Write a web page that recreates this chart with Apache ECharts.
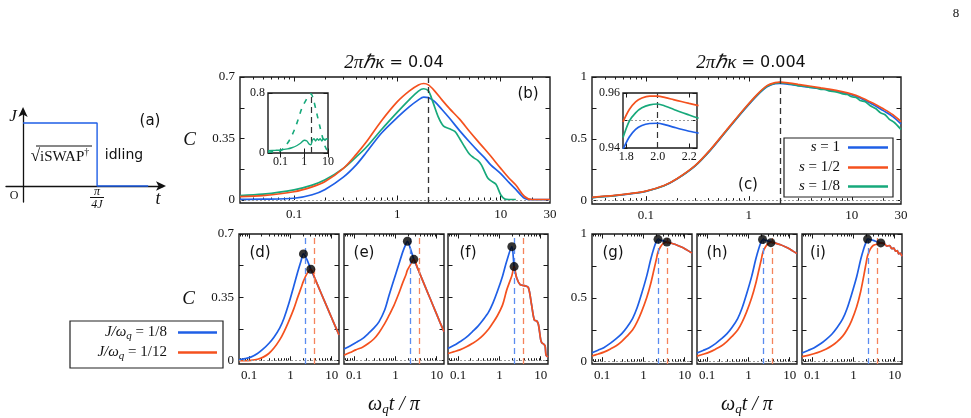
<!DOCTYPE html>
<html>
<head>
<meta charset="utf-8">
<script src="https://cdn.jsdelivr.net/npm/echarts@6.0.0/dist/echarts.min.js"></script>
<style>
html, body { margin: 0; background: #fff; }
#chart { width: 971px; height: 418px; }
</style>
</head>
<body>
<div id="chart"></div>
<script>
// ---------- data ----------
var sNames = ['s = 1', 's = 1/2', 's = 1/8'];
var jNames = ['J/ωq = 1/8', 'J/ωq = 1/12'];

// tick values
var topMajor = [0.1, 1, 10];
var topMinor = [0.04, 0.05, 0.06, 0.07, 0.08, 0.09, 0.2, 0.3, 0.4, 0.5, 0.6, 0.7, 0.8, 0.9,
                2, 3, 4, 5, 6, 7, 8, 9, 20];
var topLabels = [0.1, 1, 10, 30];
var botMajor = [0.1, 1, 10];
var botMinor = [0.06, 0.07, 0.08, 0.09, 0.2, 0.3, 0.4, 0.5, 0.6, 0.7, 0.8, 0.9, 2, 3, 4, 5, 6, 7, 8, 9];
var botLabels = [0.1, 1, 10];
var ticks07 = [0, 0.175, 0.35, 0.525, 0.7];
var labels07 = [0, 0.35, 0.7];
var ticks1 = [0, 0.25, 0.5, 0.75, 1];
var labels1 = [0, 0.5, 1];

// (a) pulse sketch
var pulseT = [0, 1, 1, 1.69];
var pulseJ = [1, 1, 0, 0];

// (b) 2πħκ = 0.04
var xTop = [0.03, 0.05, 0.1, 0.15, 0.2, 0.3, 0.4, 0.5, 0.7, 1, 1.3, 1.6, 1.8, 2, 2.3, 2.7, 3.2, 4, 5, 6, 7, 8, 10, 12, 14, 17, 20, 25, 30];
var bBlue = [0.004, 0.005, 0.01, 0.03, 0.06, 0.13, 0.2, 0.27, 0.38, 0.47, 0.53, 0.57, 0.585, 0.583, 0.56, 0.515, 0.465, 0.395, 0.33, 0.28, 0.24, 0.2, 0.15, 0.1, 0.06, 0.01, 0.002, 0.002, 0.002];
var bOrange = [0.019, 0.025, 0.047, 0.075, 0.105, 0.18, 0.26, 0.33, 0.45, 0.56, 0.62, 0.655, 0.663, 0.655, 0.62, 0.57, 0.52, 0.46, 0.39, 0.335, 0.29, 0.25, 0.18, 0.125, 0.085, 0.02, 0.003, 0.003, 0.003];
var xBGreen = [0.03, 0.05, 0.1, 0.15, 0.2, 0.3, 0.4, 0.5, 0.7, 1, 1.3, 1.6, 1.8, 2, 2.2, 2.5, 2.8, 3.2, 3.6, 4, 4.5, 5, 5.5, 6, 6.5, 7, 7.5, 8, 9, 10, 11, 12, 14];
var bGreen = [0.025, 0.033, 0.058, 0.085, 0.115, 0.18, 0.245, 0.3, 0.4, 0.5, 0.57, 0.62, 0.633, 0.62, 0.56, 0.47, 0.42, 0.405, 0.39, 0.35, 0.3, 0.26, 0.24, 0.225, 0.2, 0.16, 0.125, 0.11, 0.09, 0.03, 0.005, 0.003, 0.003];
// inset of (b)
var xIBSolid = [0.03, 0.06, 0.1, 0.2, 0.3, 0.5, 0.7, 1, 1.3, 1.6, 1.9, 2.2, 2.6, 3, 3.5, 4, 4.7, 5.5, 6.5, 7.5, 8.5, 10];
var ibSolid = [0.03, 0.035, 0.04, 0.055, 0.07, 0.1, 0.13, 0.17, 0.16, 0.12, 0.11, 0.17, 0.19, 0.16, 0.19, 0.17, 0.19, 0.16, 0.19, 0.17, 0.19, 0.18];
var xIBDash = [0.03, 0.06, 0.1, 0.15, 0.25, 0.4, 0.56, 0.8, 1.26, 1.6, 1.92, 2.4, 3.3, 4.5, 6, 7.5, 9];
var ibDash = [0.01, 0.02, 0.03, 0.08, 0.18, 0.32, 0.45, 0.6, 0.72, 0.77, 0.79, 0.72, 0.54, 0.36, 0.2, 0.09, 0.04];

// (c) 2πħκ = 0.004
var xC = [0.03, 0.05, 0.07, 0.1, 0.15, 0.2, 0.3, 0.42, 0.6, 0.89, 1.2, 1.5, 1.8, 2, 2.5, 3, 4, 5, 6, 8, 10, 12, 15, 17.5, 20, 25, 30];
var cBlue = [0.024, 0.04, 0.055, 0.075, 0.12, 0.175, 0.28, 0.405, 0.56, 0.73, 0.85, 0.92, 0.947, 0.948, 0.94, 0.93, 0.915, 0.905, 0.895, 0.875, 0.855, 0.83, 0.79, 0.76, 0.73, 0.68, 0.62];
var cOrange = [0.026, 0.042, 0.057, 0.077, 0.122, 0.177, 0.283, 0.41, 0.565, 0.737, 0.858, 0.93, 0.955, 0.958, 0.95, 0.94, 0.925, 0.912, 0.902, 0.882, 0.862, 0.838, 0.8, 0.772, 0.745, 0.695, 0.64];
var xCGreen = [0.03, 0.05, 0.07, 0.1, 0.15, 0.2, 0.3, 0.42, 0.6, 0.89, 1.2, 1.5, 1.8, 2, 2.5, 3, 3.5, 4, 4.5, 5, 5.5, 6, 7, 8, 9, 10, 11, 12, 13.5, 15, 17, 19, 21, 23, 26, 30];
var cGreen = [0.025, 0.041, 0.056, 0.076, 0.121, 0.176, 0.282, 0.407, 0.562, 0.733, 0.853, 0.925, 0.95, 0.955, 0.945, 0.93, 0.925, 0.915, 0.912, 0.9, 0.9, 0.888, 0.88, 0.865, 0.858, 0.84, 0.835, 0.81, 0.8, 0.77, 0.745, 0.71, 0.695, 0.66, 0.63, 0.575];
// inset of (c)
var xIC = [1.78, 1.82, 1.86, 1.9, 1.95, 2.0, 2.05, 2.1, 2.15, 2.2, 2.26];
var icBlue = [0.9395, 0.9440, 0.9468, 0.9482, 0.9489, 0.9490, 0.9484, 0.9476, 0.9468, 0.9461, 0.9454];
var icOrange = [0.9495, 0.9540, 0.9568, 0.9582, 0.9589, 0.9589, 0.9583, 0.9576, 0.9569, 0.9562, 0.9554];
var icGreen = [0.9438, 0.9498, 0.9528, 0.9546, 0.9557, 0.9560, 0.9552, 0.9541, 0.9530, 0.9520, 0.9508];

// (d)-(f), κ = 0.04
var xD = [0.057, 0.08, 0.11, 0.16, 0.22, 0.3, 0.4, 0.55, 0.7, 0.9, 1.2, 1.5, 1.8, 2.07, 2.5, 3.12, 4, 5, 6.3, 8, 10, 12, 15];
var dBlue = [0.005, 0.012, 0.02, 0.04, 0.065, 0.095, 0.13, 0.18, 0.235, 0.31, 0.41, 0.49, 0.55, 0.59, 0.56, 0.505, 0.449, 0.397, 0.343, 0.288, 0.236, 0.194, 0.142];
var dOrange = [0, 0, 0.002, 0.008, 0.02, 0.04, 0.07, 0.115, 0.16, 0.215, 0.285, 0.35, 0.4, 0.44, 0.48, 0.505, 0.449, 0.397, 0.343, 0.288, 0.236, 0.194, 0.142];
var dDots = [[2.07, 0.59], [3.12, 0.505]];
var xE = [0.057, 0.08, 0.11, 0.16, 0.22, 0.3, 0.4, 0.55, 0.7, 0.9, 1.2, 1.5, 1.8, 1.95, 2.3, 2.79, 3.5, 4.5, 6, 8, 10, 12, 15];
var eBlue = [0.065, 0.082, 0.1, 0.122, 0.15, 0.18, 0.215, 0.28, 0.36, 0.44, 0.53, 0.6, 0.645, 0.66, 0.62, 0.56, 0.507, 0.447, 0.378, 0.309, 0.256, 0.212, 0.16];
var eOrange = [0.03, 0.045, 0.06, 0.075, 0.095, 0.12, 0.155, 0.205, 0.25, 0.3, 0.37, 0.43, 0.475, 0.5, 0.53, 0.56, 0.507, 0.447, 0.378, 0.309, 0.256, 0.212, 0.16];
var eDots = [[1.95, 0.66], [2.79, 0.56]];
var xF = [0.057, 0.08, 0.11, 0.16, 0.22, 0.3, 0.4, 0.55, 0.7, 0.9, 1.2, 1.5, 2.0, 2.27, 2.6, 3.17, 4, 5, 6, 7, 8, 8.8, 10, 10.6, 12, 12.8, 13.5, 15];
var fBlue = [0.068, 0.085, 0.105, 0.13, 0.16, 0.19, 0.225, 0.27, 0.32, 0.385, 0.47, 0.55, 0.63, 0.52, 0.46, 0.42, 0.415, 0.405, 0.31, 0.225, 0.22, 0.2, 0.115, 0.1, 0.09, 0.08, 0.03, 0.02];
var fOrange = [0.04, 0.05, 0.06, 0.077, 0.095, 0.115, 0.14, 0.175, 0.21, 0.25, 0.31, 0.39, 0.47, 0.52, 0.46, 0.42, 0.415, 0.405, 0.31, 0.225, 0.22, 0.2, 0.115, 0.1, 0.09, 0.08, 0.03, 0.02];
var fDots = [[2.0, 0.63], [2.27, 0.52]];

// (g)-(i), κ = 0.004
var xG = [0.057, 0.08, 0.11, 0.16, 0.22, 0.3, 0.4, 0.55, 0.7, 0.9, 1.2, 1.5, 1.8, 2.05, 2.26, 2.6, 3, 3.7, 4.5, 6, 8, 10, 12, 15];
var gBlue = [0.07, 0.09, 0.11, 0.145, 0.18, 0.22, 0.27, 0.34, 0.42, 0.53, 0.67, 0.8, 0.89, 0.94, 0.958, 0.952, 0.946, 0.937, 0.93, 0.918, 0.9, 0.885, 0.87, 0.85];
var gOrange = [0.045, 0.06, 0.075, 0.1, 0.125, 0.16, 0.2, 0.25, 0.31, 0.39, 0.5, 0.61, 0.72, 0.8, 0.86, 0.9, 0.925, 0.937, 0.93, 0.918, 0.9, 0.885, 0.87, 0.85];
var gDots = [[2.26, 0.958], [3.7, 0.937]];
var hBlue = [0.068, 0.088, 0.108, 0.142, 0.178, 0.218, 0.268, 0.338, 0.418, 0.528, 0.668, 0.8, 0.89, 0.94, 0.957, 0.951, 0.945, 0.936, 0.929, 0.916, 0.898, 0.882, 0.866, 0.848];
var hOrange = [0.044, 0.058, 0.073, 0.098, 0.123, 0.158, 0.198, 0.248, 0.308, 0.388, 0.5, 0.61, 0.72, 0.8, 0.86, 0.9, 0.924, 0.936, 0.929, 0.916, 0.898, 0.882, 0.866, 0.848];
var hDots = [[2.2, 0.957], [3.5, 0.932]];
var xI = [0.057, 0.08, 0.11, 0.16, 0.22, 0.3, 0.4, 0.55, 0.7, 0.9, 1.2, 1.5, 1.8, 2.05, 2.2, 2.6, 3, 3.7, 4.6, 5.5, 6.5, 7.5, 8.5, 9.5, 10.5, 11.5, 12.5, 13.5, 15];
var iBlue = [0.068, 0.088, 0.108, 0.14, 0.175, 0.215, 0.265, 0.335, 0.415, 0.525, 0.665, 0.8, 0.89, 0.94, 0.96, 0.955, 0.95, 0.94, 0.93, 0.925, 0.905, 0.91, 0.885, 0.89, 0.865, 0.87, 0.845, 0.85, 0.825];
var iOrange = [0.04, 0.05, 0.062, 0.08, 0.1, 0.125, 0.155, 0.2, 0.25, 0.32, 0.43, 0.55, 0.68, 0.78, 0.83, 0.885, 0.91, 0.92, 0.93, 0.925, 0.905, 0.91, 0.885, 0.89, 0.865, 0.87, 0.845, 0.85, 0.825];
var iDots = [[2.2, 0.96], [4.6, 0.93]];

// gate times (dashed verticals)
var tGateTop = 2;
var tGate = [2.27, 3.7];

// ---------- helpers ----------
var SERIF = 'Liberation Serif';
var SANS = 'DejaVu Sans';
var BLUE = '#1f5fe6', ORANGE = '#f4511e', GREEN = '#17a97b';
var BLUE_L = '#5a8cf0', ORANGE_L = '#f5845c';

var grids = [], xAxes = [], yAxes = [], series = [], graphics = [];

function pairs(xs, ys) {
  var out = [];
  for (var i = 0; i < xs.length; i++) out.push([xs[i], ys[i]]);
  return out;
}
function logFmt(v) { return String(+(+v).toPrecision(3)); }
function numFmt(v) { return String(+(+v).toFixed(3)); }

function addGrid(left, top, width, height, bg) {
  grids.push({left: left, top: top, width: width, height: height, show: true,
    borderColor: '#1a1a1a', borderWidth: 1.4, backgroundColor: bg || 'transparent'});
  return grids.length - 1;
}

function tickAxis(list, base, pos, ticks, len, labels, fmt, size, extra) {
  var a = {position: pos, axisLine: {show: false}, splitLine: {show: false},
    axisTick: {show: true, inside: true, length: len, customValues: ticks, lineStyle: {color: '#1a1a1a', width: 1}},
    axisLabel: labels ? {show: true, customValues: labels, formatter: fmt, fontFamily: SERIF,
      fontSize: size || 13, color: '#111', margin: 5} : {show: false}};
  for (var k in base) a[k] = base[k];
  for (var e in extra) a[e] = extra[e];
  list.push(a);
  return list.length - 1;
}

function addX(g, type, min, max, majors, minors, labels, fmt, size, extra) {
  var base = {type: type, gridIndex: g, min: min, max: max};
  var idx = tickAxis(xAxes, base, 'bottom', majors, 4.5, labels, fmt, size, extra);
  if (minors) tickAxis(xAxes, base, 'bottom', minors, 2.5);
  tickAxis(xAxes, base, 'top', majors, 4.5);
  if (minors) tickAxis(xAxes, base, 'top', minors, 2.5);
  return idx;
}

function addY(g, min, max, ticks, labels, fmt, size, extra) {
  var base = {type: 'value', gridIndex: g, min: min, max: max};
  var idx = tickAxis(yAxes, base, 'left', ticks, 4.5, labels, fmt, size, extra);
  tickAxis(yAxes, base, 'right', ticks, 4.5);
  return idx;
}

function addLine(name, xi, yi, xs, ys, color, opts) {
  var s = {type: 'line', name: name, xAxisIndex: xi, yAxisIndex: yi, data: pairs(xs, ys),
    symbol: 'none', smooth: 0.3, silent: true, z: 3, clip: true,
    lineStyle: {color: color, width: 1.7}, itemStyle: {color: color}};
  for (var k in opts) s[k] = opts[k];
  series.push(s);
  return s;
}

function marks(items) {
  return {silent: true, symbol: ['none', 'none'], label: {show: false}, animation: false, data: items};
}
function vmark(x, color, w) {
  return {xAxis: x, lineStyle: {color: color, type: [6, 4], width: w || 1.2}};
}
function hdot(y) {
  return {yAxis: y, lineStyle: {color: '#9a9a9a', type: [2, 2], width: 1}};
}

function txt(x, y, text, font, extra) {
  var st = {text: text, font: font, fill: '#111', align: 'center', verticalAlign: 'middle'};
  for (var k in extra) st[k] = extra[k];
  graphics.push({type: 'text', x: x, y: y, z: 10, silent: true, style: st});
}
function seg(x1, y1, x2, y2, w) {
  graphics.push({type: 'line', z: 10, silent: true, shape: {x1: x1, y1: y1, x2: x2, y2: y2},
    style: {stroke: '#111', lineWidth: w || 1}});
}

var cName = {name: 'C', nameLocation: 'middle', nameRotate: 0, nameGap: 44, nameMoveOverlap: false,
  nameTextStyle: {fontFamily: SERIF, fontStyle: 'italic', fontSize: 19, color: '#111'}};
var wRich = {
  w: {fontFamily: SERIF, fontStyle: 'italic', fontSize: 20, color: '#111'},
  q: {fontFamily: SERIF, fontStyle: 'italic', fontSize: 13, color: '#111', padding: [9, 0, 0, 0]}
};
var wName = {name: '{w|ω}{q|q}{w|t / π}', nameLocation: 'middle', nameGap: 30, nameMoveOverlap: false,
  nameTextStyle: {rich: wRich}};

// ---------- (a) sketch ----------
var gA = grids.length;
grids.push({left: 6, top: 110, width: 157, height: 92, show: false});
var arrowLine = {onZero: true, symbol: ['none', 'arrow'], symbolSize: [7, 10], symbolOffset: [0, 3],
  lineStyle: {color: '#111', width: 1.3}};
xAxes.push({type: 'value', gridIndex: gA, min: -0.23, max: 1.89, axisLine: arrowLine,
  axisTick: {show: false}, axisLabel: {show: false}, splitLine: {show: false}});
var axA = xAxes.length - 1;
yAxes.push({type: 'value', gridIndex: gA, min: -0.254, max: 1.206, axisLine: arrowLine,
  axisTick: {show: false}, axisLabel: {show: false}, splitLine: {show: false}});
var ayA = yAxes.length - 1;
addLine('pulse', axA, ayA, pulseT, pulseJ, BLUE, {smooth: false, lineStyle: {color: BLUE, width: 1.4}});

txt(13, 117, 'J', 'italic 17px "Liberation Serif"');
txt(150, 121, '(a)', '15px "DejaVu Sans"');
txt(60, 157, '{r|√}{t|iSWAP}{d|†}', '15px "Liberation Serif"', {rich: {
  r: {fontFamily: SERIF, fontSize: 17}, t: {fontFamily: SERIF, fontSize: 15},
  d: {fontFamily: SERIF, fontSize: 10, padding: [0, 0, 9, 0]}}});
seg(36, 146, 92, 146, 1);
txt(124, 155, 'idling', '14px "DejaVu Sans"');
txt(14, 196, 'O', '12px "Liberation Serif"');
txt(97, 192, 'π', 'italic 12px "Liberation Serif"');
seg(90, 197.5, 104, 197.5, 1);
txt(97, 205, '4J', 'italic 12px "Liberation Serif"');
txt(158, 199, 't', 'italic 18px "Liberation Serif"');

// ---------- (b) ----------
var gB = addGrid(240, 77, 310, 126);
var bx = addX(gB, 'log', 0.03, 30, topMajor, topMinor, topLabels, logFmt, 13);
var by = addY(gB, -0.017, 0.7, ticks07, labels07, numFmt, 13, cName);
addLine(sNames[0], bx, by, xTop, bBlue, BLUE, {markLine: marks([hdot(0), vmark(tGateTop, '#333', 1.3)])});
addLine(sNames[1], bx, by, xTop, bOrange, ORANGE, {z: 4});
addLine(sNames[2], bx, by, xBGreen, bGreen, GREEN, {z: 3});

var gBi = addGrid(268, 93, 60, 60, '#fff');
var bix = addX(gBi, 'log', 0.03, 10, [0.1, 1, 10], null, [0.1, 1, 10], logFmt, 12);
var biy = addY(gBi, 0, 0.8, [0, 0.8], [0, 0.8], numFmt, 12);
yAxes[biy].axisLabel.margin = 3;
xAxes[bix].axisLabel.margin = 3;
addLine('inset', bix, biy, xIBSolid, ibSolid, GREEN, {z: 6, lineStyle: {color: GREEN, width: 1.4},
  markLine: marks([vmark(2, '#333', 1.2)])});
addLine('inset dashed', bix, biy, xIBDash, ibDash, GREEN, {z: 6, lineStyle: {color: GREEN, width: 1.6, type: [5, 6]}});

// ---------- (c) ----------
var gC = addGrid(592, 77, 309, 127);
var cx = addX(gC, 'log', 0.03, 30, topMajor, topMinor, topLabels, logFmt, 13);
var cy = addY(gC, -0.027, 1, ticks1, labels1, numFmt, 13);
addLine(sNames[0], cx, cy, xC, cBlue, BLUE, {markLine: marks([hdot(0), vmark(tGateTop, '#333', 1.3)])});
addLine(sNames[1], cx, cy, xC, cOrange, ORANGE, {z: 4});
addLine(sNames[2], cx, cy, xCGreen, cGreen, GREEN, {z: 3});

var gCi = addGrid(623, 93, 74, 55, '#fff');
var cix = addX(gCi, 'value', 1.78, 2.25, [1.8, 2.0, 2.2], null, [1.8, 2.0, 2.2],
  function (v) { return (+v).toFixed(1); }, 12);
var ciy = addY(gCi, 0.94, 0.96, [0.94, 0.95, 0.96], [0.94, 0.96],
  function (v) { return (+v).toFixed(2); }, 12);
yAxes[ciy].axisLabel.margin = 3;
xAxes[cix].axisLabel.margin = 3;
addLine(sNames[0], cix, ciy, xIC, icBlue, BLUE, {z: 6, markLine: marks([hdot(0.95), vmark(2.0, '#333', 1.2)])});
addLine(sNames[1], cix, ciy, xIC, icOrange, ORANGE, {z: 6});
addLine(sNames[2], cix, ciy, xIC, icGreen, GREEN, {z: 6});

// ---------- bottom rows ----------
function bottomPanel(left, yMin, yMax, yTicks, yLabels, xs, blue, orange, dots, first, extraX, extraY) {
  var g = addGrid(left, 234, 100, 130);
  var xi = addX(g, 'log', 0.057, 15, botMajor, botMinor, botLabels, logFmt, 13, extraX);
  var yi = addY(g, yMin, yMax, yTicks, first ? yLabels : null, numFmt, 13, extraY);
  addLine(jNames[0], xi, yi, xs, blue, BLUE, {z: 3,
    markLine: marks([hdot(0), vmark(tGate[0], BLUE_L, 1.3), vmark(tGate[1], ORANGE_L, 1.3)])});
  addLine(jNames[1], xi, yi, xs, orange, ORANGE, {z: 4});
  series.push({type: 'scatter', name: 'optimum', xAxisIndex: xi, yAxisIndex: yi, data: dots,
    symbolSize: 9, itemStyle: {color: '#000'}, z: 6, silent: true});
}
bottomPanel(239, -0.018, 0.7, ticks07, labels07, xD, dBlue, dOrange, dDots, true, null, cName);
bottomPanel(344, -0.018, 0.7, ticks07, labels07, xE, eBlue, eOrange, eDots, false, wName, null);
bottomPanel(448, -0.018, 0.7, ticks07, labels07, xF, fBlue, fOrange, fDots, false, null, null);
bottomPanel(592, -0.018, 1, ticks1, labels1, xG, gBlue, gOrange, gDots, true, null, null);
bottomPanel(697, -0.018, 1, ticks1, labels1, xG, hBlue, hOrange, hDots, false, wName, null);
bottomPanel(802, -0.018, 1, ticks1, labels1, xI, iBlue, iOrange, iDots, false, null, null);

// ---------- texts ----------
var titleRich = {
  m: {fontFamily: SERIF, fontStyle: 'italic', fontSize: 19, fill: '#111'},
  n: {fontFamily: SANS, fontSize: 16, fill: '#111'}
};
txt(394, 63, '{m|2πℏκ}{n| = 0.04}', '16px "DejaVu Sans"', {rich: titleRich});
txt(751, 63, '{m|2πℏκ}{n| = 0.004}', '16px "DejaVu Sans"', {rich: titleRich});
txt(956, 14, '8', '13px "Liberation Serif"');
var panelTags = [['(b)', 528, 94], ['(c)', 748, 185], ['(d)', 260, 253], ['(e)', 364, 253],
  ['(f)', 468, 253], ['(g)', 613, 253], ['(h)', 717, 253], ['(i)', 818, 253]];
panelTags.forEach(function (p) { txt(p[1], p[2], p[0], '15px "DejaVu Sans"'); });

// legend frames
graphics.push({type: 'rect', z: 3, silent: true, shape: {x: 784, y: 138, width: 109, height: 59},
  style: {fill: '#fff', stroke: '#222', lineWidth: 1.2}});
graphics.push({type: 'rect', z: 3, silent: true, shape: {x: 70, y: 321, width: 153, height: 47},
  style: {fill: '#fff', stroke: '#222', lineWidth: 1.2}});

// ---------- legends ----------
var legends = [];
var sTops = [140, 160, 179];
sNames.forEach(function (n, i) {
  legends.push({data: [n], right: 83, top: sTops[i], align: 'right', padding: 0, icon: 'rect',
    itemWidth: 40, itemHeight: 2.5, selectedMode: false, z: 5,
    formatter: function (name) { return '{i|s}{n|' + name.slice(1) + '}'; },
    textStyle: {rich: {
      i: {fontFamily: SERIF, fontStyle: 'italic', fontSize: 15, color: '#111'},
      n: {fontFamily: SERIF, fontSize: 15, color: '#111', padding: [0, 3, 0, 0]}}}});
});
var jTops = [325, 345];
jNames.forEach(function (n, i) {
  legends.push({data: [n], right: 754, top: jTops[i], align: 'right', padding: 0, icon: 'rect',
    itemWidth: 39, itemHeight: 2.5, selectedMode: false, z: 5,
    formatter: function (name) { return '{i|J/ω}{q|q}{n| = ' + name.split(' = ')[1] + '}'; },
    textStyle: {rich: {
      i: {fontFamily: SERIF, fontStyle: 'italic', fontSize: 15, color: '#111'},
      q: {fontFamily: SERIF, fontStyle: 'italic', fontSize: 11, color: '#111', padding: [7, 0, 0, 0]},
      n: {fontFamily: SERIF, fontSize: 15, color: '#111', padding: [0, 6, 0, 0]}}}});
});

var chart = echarts.init(document.getElementById('chart'));
chart.setOption({
  backgroundColor: '#fff',
  animation: false,
  grid: grids,
  xAxis: xAxes,
  yAxis: yAxes,
  legend: legends,
  series: series,
  graphic: graphics
});
</script>
</body>
</html>
